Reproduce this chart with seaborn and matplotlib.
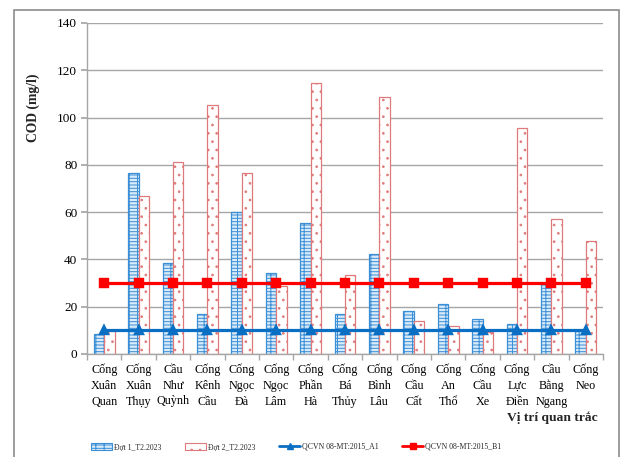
import numpy as np
import pandas as pd
import matplotlib
matplotlib.use("Agg")
import matplotlib.pyplot as plt
import seaborn as sns
from matplotlib.patches import Patch, Rectangle
from matplotlib.lines import Line2D

# -----------------------------
# Data
# -----------------------------
stations = [
    "Cống\nXuân\nQuan", "Cống\nXuân\nThụy", "Cầu\nNhư\nQuỳnh", "Cống\nKênh\nCầu",
    "Cống\nNgọc\nĐà", "Cống\nNgọc\nLâm", "Cống\nPhần\nHà", "Cống\nBá\nThủy",
    "Cống\nBình\nLâu", "Cống\nCầu\nCất", "Cống\nAn\nThổ", "Cống\nCầu\nXe",
    "Cống\nLực\nĐiền", "Cầu\nBằng\nNgang", "Cống\nNeo\n",
]
dot1 = [8.5, 76.4, 38.3, 16.9, 59.9, 34.1, 55.5, 16.9, 42.3, 18.3, 21.1, 14.8, 12.7, 29.6, 10.3]
dot2 = [9.8, 66.8, 81.3, 105.2, 76.4, 28.7, 114.8, 33.4, 108.8, 14.1, 11.8, 9.5, 95.7, 57.2, 47.9]
qcvn_a1 = [10] * len(stations)
qcvn_b1 = [30] * len(stations)

series_names = ["Đợt 1_T2.2023", "Đợt 2_T2.2023"]
line_names = ["QCVN 08-MT:2015_A1", "QCVN 08-MT:2015_B1"]

df = pd.DataFrame({
    "station": stations * 2,
    "cod": dot1 + dot2,
    "dot": [series_names[0]] * len(stations) + [series_names[1]] * len(stations),
})

# -----------------------------
# Style
# -----------------------------
sns.set_theme(style="white")
plt.rcParams["font.family"] = ["Liberation Serif", "DejaVu Serif"]
plt.rcParams["hatch.linewidth"] = 0.7

BLUE_EDGE = "#3b8fd6"
BLUE_FACE = "#d9eaf8"
RED_EDGE = "#e07a7a"
BLUE_LINE = "#0a6fc2"
RED_LINE = "#ff0000"
GRID = "#a6a6a6"

fig = plt.figure(figsize=(6.21, 4.57), dpi=100)
ax = fig.add_axes([87 / 621, 1 - 354 / 457, (603 - 87) / 621, (354 - 23) / 457])

sns.barplot(data=df, x="station", y="cod", hue="dot", order=stations,
            hue_order=series_names, width=0.6, gap=0, ax=ax, legend=False,
            palette=[BLUE_FACE, "white"], saturation=1)

n = len(stations)
for i, p in enumerate(ax.patches):
    if i < n:
        p.set_facecolor(BLUE_FACE)
        p.set_edgecolor(BLUE_EDGE)
        p.set_hatch("-----||")
    else:
        p.set_facecolor("white")
        p.set_edgecolor(RED_EDGE)
        p.set_hatch("..")
    p.set_linewidth(0.9)

sns.pointplot(x=stations, y=qcvn_b1, color=RED_LINE, markers="s", markersize=5.5,
              linewidth=2.3, ax=ax, errorbar=None)
sns.pointplot(x=stations, y=qcvn_a1, color=BLUE_LINE, markers="^", markersize=5.5,
              linewidth=2.3, ax=ax, errorbar=None)

# axes
ax.set_ylim(0, 140)
ax.set_xlim(-0.5, n - 0.5)
ax.set_yticks(np.arange(0, 141, 20))
ax.yaxis.grid(True, color=GRID, linewidth=1.0)
ax.set_axisbelow(True)
ax.set_xlabel("")
ax.set_ylabel("")
for s in ["top", "right"]:
    ax.spines[s].set_visible(False)
for s in ["left", "bottom"]:
    ax.spines[s].set_color(GRID)
    ax.spines[s].set_linewidth(1.0)

ax.tick_params(axis="y", which="both", left=True, length=4, color=GRID,
               labelsize=9.5, pad=3, labelcolor="black")
ax.tick_params(axis="x", which="major", length=0, labelsize=8.7, pad=7, labelcolor="black")
ax.set_xticks(np.arange(-0.5, n, 1.0), minor=True)
ax.tick_params(axis="x", which="minor", bottom=True, length=4, color=GRID)
for lab in ax.get_xticklabels():
    lab.set_linespacing(1.42)
    lab.set_verticalalignment("top")

# titles
fig.text(33 / 621, 1 - 108 / 457, "COD (mg/l)", rotation=90, fontsize=9.8,
         fontweight="bold", ha="center", va="center")
fig.text(598 / 621, 1 - 418 / 457, "Vị trí quan trắc", fontsize=9.7,
         fontweight="bold", ha="right", va="center")

# legend
handles = [
    Patch(facecolor=BLUE_FACE, edgecolor=BLUE_EDGE, hatch="-----||", linewidth=0.8),
    Patch(facecolor="white", edgecolor=RED_EDGE, hatch="..", linewidth=0.8),
    Line2D([], [], color=BLUE_LINE, marker="^", markersize=4, linewidth=2),
    Line2D([], [], color=RED_LINE, marker="s", markersize=4, linewidth=2),
]
fig.legend(handles, series_names + line_names, loc="center",
           bbox_to_anchor=(296 / 621, 1 - 447 / 457), ncol=4, frameon=False,
           fontsize=5.6, handlelength=2.7, handleheight=0.9, columnspacing=3.1,
           handletextpad=0.2)

# outer chart frame
fig.add_artist(Rectangle((14 / 621, -0.05), (619 - 14) / 621, 1.05 - 10 / 457,
                         transform=fig.transFigure, fill=False,
                         edgecolor="#8c8c8c", linewidth=1.2))

fig.savefig("out.png", dpi=100)
